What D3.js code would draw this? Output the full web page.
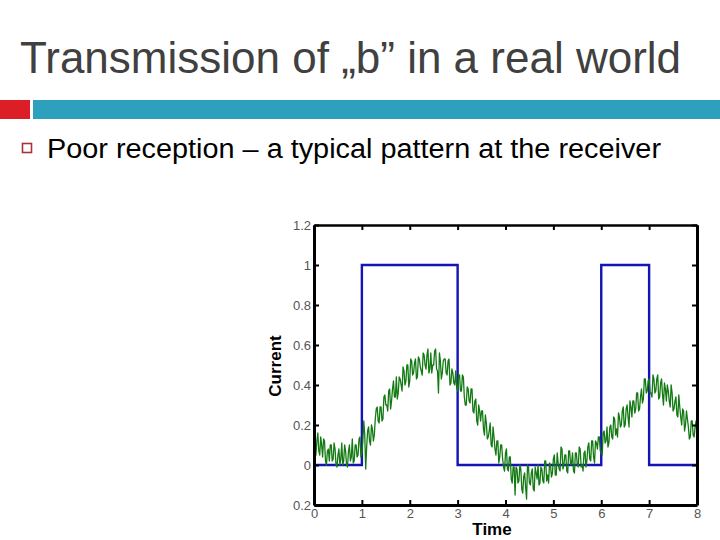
<!DOCTYPE html>
<html>
<head>
<meta charset="utf-8">
<script src="https://cdn.jsdelivr.net/npm/d3@7"></script>
<style>
  html, body { margin: 0; padding: 0; background: #ffffff; }
  svg { display: block; }
</style>
</head>
<body>
<svg id="slide" width="720" height="540"></svg>
<script>
// ---------- data ----------
const titleText = "Transmission of \u201Eb\u201D in a real world";
const bulletText = "Poor reception \u2013 a typical pattern at the receiver";
const xLabel = "Time";
const yLabel = "Current";

const xTicks = [0, 1, 2, 3, 4, 5, 6, 7, 8];
const xTickLabels = ["0", "1", "2", "3", "4", "5", "6", "7", "8"];
const yTicks = [-0.2, 0, 0.2, 0.4, 0.6, 0.8, 1.0, 1.2];
const yTickLabels = ["0.2", "0", "0.2", "0.4", "0.6", "0.8", "1", "1.2"];

// transmitted bit pattern (level holds until next edge)
const bitTimes  = [0, 1, 3, 6, 7, 8];
const bitLevels = [0, 1, 0, 1, 0, 0];

// received (noisy) current, sampled every 0.04 time units from 0 to 8
const sampleStep = 0.04;
const received = [
  0.15,0.05,0.16,0.05,0.10,0.13,0.02,0.07,0.02,0.10,0.03,0.08,-0.01,0.08,0.03,0.00,0.10,0.00,0.07,0.02,0.13,0.02,0.10,0.05,0.14,
  0.06,0.22,-0.02,0.17,0.12,0.20,0.12,0.23,0.29,0.21,0.29,0.23,0.35,0.30,0.37,0.28,0.38,0.34,0.44,0.36,0.43,0.37,0.47,0.42,0.50,
  0.42,0.52,0.46,0.53,0.44,0.53,0.47,0.56,0.50,0.55,0.46,0.56,0.50,0.57,0.48,0.36,0.52,0.46,0.53,0.46,0.52,0.40,0.48,0.41,0.47,
  0.37,0.45,0.37,0.44,0.30,0.39,0.32,0.38,0.27,0.32,0.22,0.30,0.22,0.27,0.15,0.21,0.14,0.21,0.09,0.14,0.05,0.12,0.04,0.10,-0.01,
  0.06,-0.02,0.04,-0.07,-0.01,-0.15,-0.02,-0.08,-0.02,-0.14,-0.04,-0.17,-0.01,-0.10,-0.02,-0.13,-0.04,0.00,-0.09,-0.02,-0.09,0.02,-0.05,0.01,-0.06,
  0.03,-0.05,0.06,-0.02,0.09,-0.02,0.05,-0.03,0.07,0.00,0.06,-0.04,0.06,-0.01,0.08,0.00,0.06,-0.01,0.09,0.03,0.12,0.04,0.12,0.08,0.14,
  0.06,0.16,0.11,0.19,0.11,0.20,0.13,0.23,0.18,0.26,0.19,0.27,0.19,0.28,0.24,0.32,0.24,0.32,0.28,0.36,0.28,0.38,0.33,0.43,0.37,
  0.43,0.36,0.45,0.36,0.43,0.33,0.41,0.35,0.41,0.32,0.37,0.29,0.36,0.28,0.34,0.24,0.29,0.20,0.27,0.20,0.23,0.13,0.22,0.15,0.19,0.15
];
// received current at the half-steps (t = 0.02, 0.06, ..., 7.98)
const receivedMid = [
  0.04,0.12,0.07,0.14,0.04,0.12,0.00,0.08,0.10,0.02,0.11,0.00,0.05,0.00,0.11,0.02,0.07,-0.01,0.10,0.04,0.01,0.10,0.04,0.13,0.04,
  0.12,0.15,0.09,0.19,0.10,0.18,0.15,0.28,0.22,0.29,0.22,0.34,0.30,0.27,0.38,0.32,0.42,0.34,0.33,0.44,0.40,0.49,0.40,0.50,0.39,
  0.53,0.45,0.51,0.43,0.54,0.49,0.45,0.55,0.48,0.58,0.48,0.46,0.50,0.58,0.47,0.56,0.43,0.52,0.53,0.45,0.53,0.41,0.46,0.40,0.39,
  0.45,0.37,0.45,0.34,0.30,0.38,0.31,0.38,0.26,0.33,0.20,0.27,0.27,0.18,0.25,0.13,0.17,0.10,0.19,0.08,0.12,0.01,0.10,0.03,-0.03,
  0.08,-0.03,0.04,-0.09,-0.01,-0.01,-0.09,0.00,-0.12,-0.06,-0.11,0.00,-0.09,-0.04,-0.12,-0.01,-0.07,-0.10,-0.01,-0.08,0.02,-0.08,-0.09,0.00,-0.04,
  0.05,-0.05,0.01,-0.03,0.08,0.00,0.05,-0.04,0.07,0.01,-0.03,0.06,0.00,0.09,-0.01,-0.03,0.07,0.02,0.11,0.02,0.12,0.01,0.11,0.14,0.07,
  0.05,0.17,0.12,0.09,0.19,0.14,0.24,0.15,0.14,0.24,0.20,0.29,0.20,0.30,0.19,0.29,0.32,0.26,0.36,0.27,0.34,0.31,0.43,0.36,0.42,
  0.36,0.34,0.43,0.37,0.45,0.34,0.43,0.30,0.38,0.40,0.32,0.40,0.27,0.32,0.25,0.35,0.24,0.28,0.17,0.27,0.19,0.14,0.22,0.14,0.22
];

// ---------- drawing ----------
const svg = d3.select("#slide");

// Title
svg.append("text")
  .attr("x", 20).attr("y", 73)
  .attr("font-family", "Liberation Sans, Arial, sans-serif")
  .attr("font-size", 44)
  .attr("fill", "#404040")
  .text(titleText);

// Decorative bars
svg.append("rect").attr("x", 0).attr("y", 100).attr("width", 30).attr("height", 19).attr("fill", "#dc1f26");
svg.append("rect").attr("x", 33).attr("y", 100).attr("width", 687).attr("height", 19).attr("fill", "#2ca0bd");

// Bullet
svg.append("rect").attr("x", 22.5).attr("y", 143.5).attr("width", 9).attr("height", 9)
  .attr("fill", "none").attr("stroke", "#a83236").attr("stroke-width", 1.6);
svg.append("text")
  .attr("x", 47).attr("y", 158)
  .attr("font-family", "Liberation Sans, Arial, sans-serif")
  .attr("font-size", 27)
  .attr("fill", "#000")
  .attr("textLength", 614)
  .attr("lengthAdjust", "spacingAndGlyphs")
  .text(bulletText);

// Plot area
const x = d3.scaleLinear().domain([0, 8]).range([314, 697]);
const y = d3.scaleLinear().domain([-0.2, 1.2]).range([505, 225]);

svg.append("defs").append("clipPath").attr("id", "plotclip")
  .append("rect").attr("x", 314).attr("y", 225).attr("width", 383).attr("height", 280);

const plot = svg.append("g").attr("clip-path", "url(#plotclip)");

// transmitted square wave
const bits = bitTimes.map((t, i) => [t, bitLevels[i]]);
plot.append("path")
  .datum(bits)
  .attr("fill", "none")
  .attr("stroke", "#1414b4")
  .attr("stroke-width", 2.4)
  .attr("d", d3.line().x(d => x(d[0])).y(d => y(d[1])).curve(d3.curveStepAfter));

// received noisy signal: interleave full-step and half-step samples
const series = [];
received.forEach((v, i) => {
  series.push([i * sampleStep, v]);
  if (i < receivedMid.length) series.push([i * sampleStep + sampleStep / 2, receivedMid[i]]);
});
plot.append("path")
  .datum(series)
  .attr("fill", "none")
  .attr("stroke", "#137a13")
  .attr("stroke-width", 1.3)
  .attr("stroke-linejoin", "round")
  .attr("d", d3.line().x(d => x(d[0])).y(d => y(d[1])));

// Axes (ticks inward on all four sides)
const tickFont = "Liberation Sans, Arial, sans-serif";
const axBottom = d3.axisBottom(x).tickValues(xTicks).tickSizeInner(-5).tickSizeOuter(0)
  .tickFormat((d, i) => xTickLabels[i]).tickPadding(4);
const axTop = d3.axisTop(x).tickValues(xTicks).tickSizeInner(-5).tickSizeOuter(0).tickFormat("");
const axLeft = d3.axisLeft(y).tickValues(yTicks).tickSizeInner(-5).tickSizeOuter(0)
  .tickFormat((d, i) => yTickLabels[i]).tickPadding(3);
const axRight = d3.axisRight(y).tickValues(yTicks).tickSizeInner(-5).tickSizeOuter(0).tickFormat("");

function styleAxis(g, w) {
  g.select(".domain").attr("stroke", "#000").attr("stroke-width", w);
  g.selectAll(".tick line").attr("stroke", "#000").attr("stroke-width", 2);
  g.selectAll(".tick text").attr("fill", "#555").attr("font-family", tickFont).attr("font-size", 13);
}

svg.append("g").attr("transform", "translate(0,505)").call(axBottom).call(g => styleAxis(g, 3));
svg.append("g").attr("transform", "translate(0,225)").call(axTop).call(g => styleAxis(g, 2.5));
svg.append("g").attr("transform", "translate(314,0)").call(axLeft).call(g => styleAxis(g, 3));
svg.append("g").attr("transform", "translate(697,0)").call(axRight).call(g => styleAxis(g, 3));

// Axis labels
svg.append("text")
  .attr("x", 492).attr("y", 535)
  .attr("text-anchor", "middle")
  .attr("font-family", "Liberation Sans, Arial, sans-serif")
  .attr("font-weight", "bold")
  .attr("font-size", 17)
  .attr("fill", "#000")
  .text(xLabel);

svg.append("text")
  .attr("transform", "translate(281,366) rotate(-90)")
  .attr("text-anchor", "middle")
  .attr("font-family", "Liberation Sans, Arial, sans-serif")
  .attr("font-weight", "bold")
  .attr("font-size", 17)
  .attr("fill", "#000")
  .text(yLabel);
</script>
</body>
</html>
